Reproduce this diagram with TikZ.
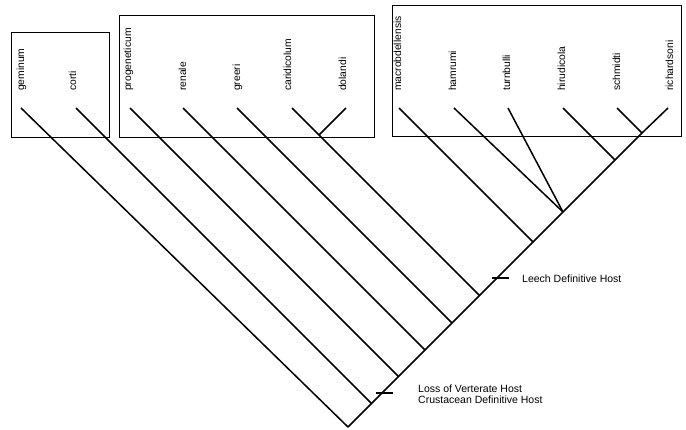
\documentclass[tikz,border=0pt]{standalone}
\usepackage{fontspec}
\setmainfont{Liberation Sans}
\begin{document}
\begin{tikzpicture}[x=1pt,y=-1pt,
  taxon/.style={rotate=90,anchor=base west,inner sep=0pt,font=\fontsize{10.3}{12}\selectfont},
  note/.style={anchor=west,inner sep=0pt,align=left,font=\fontsize{10.5}{11}\selectfont},
  grp/.style={draw,line width=1pt},
  branch/.style={line width=1.5pt},
  tick/.style={line width=1.2pt}]
\useasboundingbox (0,0) rectangle (686,429);
% group boxes
\draw[grp] (11,32) rectangle (109,137);
\draw[grp] (119,15) rectangle (374,137);
\draw[grp] (392,5) rectangle (681,136);
% taxon labels
\node[taxon] (geminum) at (24,91) {geminum};
\node[taxon] (corti) at (76,91) {corti};
\node[taxon] (progeneticum) at (131,91) {progeneticum};
\node[taxon] (renale) at (186,91) {renale};
\node[taxon] (greeri) at (240,91) {greeri};
\node[taxon] (caridicolum) at (291,91) {caridicolum};
\node[taxon] (dolandi) at (346,91) {dolandi};
\node[taxon] (macrobdellensis) at (401,91) {macrobdellensis};
\node[taxon] (hamrumi) at (456,91) {hamrumi};
\node[taxon] (turnbulli) at (510,91) {turnbulli};
\node[taxon] (hirudicola) at (565,91) {hirudicola};
\node[taxon] (schmidti) at (620,91) {schmidti};
\node[taxon] (richardsoni) at (673,91) {richardsoni};
% tips
\coordinate (tGem) at (21,108);
\coordinate (tCor) at (76,108);
\coordinate (tPro) at (130,108);
\coordinate (tRen) at (183,108);
\coordinate (tGre) at (237,108);
\coordinate (tCar) at (292,108);
\coordinate (tDol) at (346,108);
\coordinate (tMac) at (399,108);
\coordinate (tHam) at (454,108);
\coordinate (tTur) at (508,108);
\coordinate (tHir) at (563,108);
\coordinate (tSch) at (617,108);
\coordinate (tRic) at (668,108);
% internal nodes
\coordinate (root) at (348,427);
\coordinate (nCor) at (371.5,403.5);
\coordinate (nPro) at (398.5,376.5);
\coordinate (nRen) at (425,350);
\coordinate (nGre) at (452,323);
\coordinate (nCar) at (479.5,295.5);
\coordinate (nCD) at (319,135);
\coordinate (nMac) at (533,242);
\coordinate (nHT) at (563,212);
\coordinate (nHir) at (615,160);
\coordinate (nSR) at (642,133);
% tree
\draw[branch] (root) -- (nSR) -- (tRic);
\draw[branch] (tGem) -- (root);
\draw[branch] (tCor) -- (nCor);
\draw[branch] (tPro) -- (nPro);
\draw[branch] (tRen) -- (nRen);
\draw[branch] (tGre) -- (nGre);
\draw[branch] (tCar) -- (nCar);
\draw[branch] (tDol) -- (nCD);
\draw[branch] (tMac) -- (nMac);
\draw[branch] (tHam) -- (nHT);
\draw[branch] (tTur) -- (nHT);
\draw[branch] (tHir) -- (nHir);
\draw[branch] (tSch) -- (nSR);
% character changes
\coordinate (kLeechA) at (492,278);
\coordinate (kLeechB) at (509,278);
\coordinate (kLossA) at (376,393);
\coordinate (kLossB) at (393,393);
\draw[tick] (kLeechA) -- (kLeechB);
\draw[tick] (kLossA) -- (kLossB);
\node[note] (leech) at (522,279) {Leech Definitive Host};
\node[note] (loss) at (418,394.5) {Loss of Verterate Host\\Crustacean Definitive Host};
\end{tikzpicture}
\end{document}
